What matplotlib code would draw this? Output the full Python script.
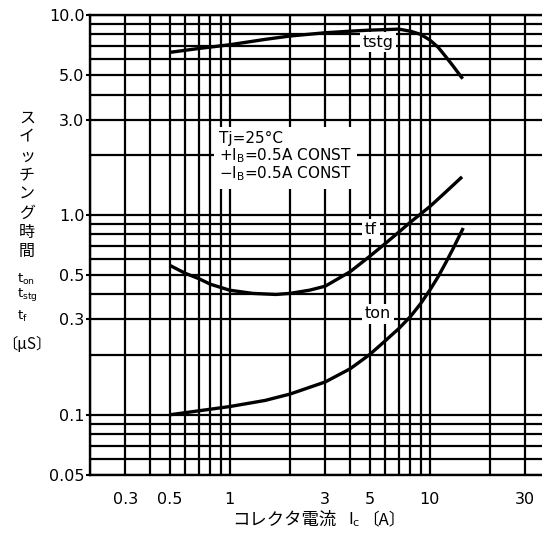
import matplotlib
matplotlib.use("Agg")
import matplotlib.pyplot as plt
from matplotlib.ticker import FixedLocator, NullFormatter, FixedFormatter

# ---- data ----
tstg_x = [0.5, 0.7, 1, 1.5, 2, 3, 4, 5, 6, 7, 8, 9, 10, 11, 12, 13, 14.6]
tstg_y = [6.5, 6.8, 7.1, 7.55, 7.85, 8.15, 8.3, 8.4, 8.45, 8.5, 8.3, 8.0, 7.5, 6.9, 6.2, 5.6, 4.8]

tf_x = [0.5, 0.6, 0.7, 0.8, 1, 1.3, 1.7, 2, 2.5, 3, 4, 5, 6, 7, 8, 10, 12, 14.5]
tf_y = [0.56, 0.51, 0.48, 0.45, 0.42, 0.405, 0.40, 0.405, 0.42, 0.44, 0.52, 0.62, 0.72, 0.82, 0.92, 1.1, 1.3, 1.55]

ton_x = [0.5, 1, 1.5, 2, 3, 4, 5, 6, 7, 8, 9, 10, 11, 12, 13, 14.7]
ton_y = [0.1, 0.11, 0.118, 0.127, 0.146, 0.17, 0.2, 0.235, 0.27, 0.31, 0.36, 0.42, 0.49, 0.575, 0.67, 0.86]

x_grid = [0.2, 0.3, 0.4, 0.5, 0.6, 0.7, 0.8, 0.9, 1, 2, 3, 4, 5, 6, 7, 8, 9, 10, 20, 30]
y_grid = [0.05, 0.06, 0.07, 0.08, 0.09, 0.1, 0.2, 0.3, 0.4, 0.5, 0.6, 0.7, 0.8, 0.9,
          1, 2, 3, 4, 5, 6, 7, 8, 9, 10]
x_ticks = [0.3, 0.5, 1, 3, 5, 10, 30]
x_ticklabels = ["0.3", "0.5", "1", "3", "5", "10", "30"]
y_ticks = [0.05, 0.1, 0.3, 0.5, 1, 3, 5, 10]
y_ticklabels = ["0.05", "0.1", "0.3", "0.5", "1.0", "3.0", "5.0", "10.0"]

W, H = 542, 534
fig = plt.figure(figsize=(W / 100, H / 100), dpi=100)
ax = fig.add_axes([90 / W, 1 - 475 / H, 452 / W, 460 / H])
ax.set_xscale("log")
ax.set_yscale("log")
ax.set_xlim(0.2, 36.4)
ax.set_ylim(0.05, 10)

for s in ["left", "top", "bottom"]:
    ax.spines[s].set_linewidth(1.7)
    ax.spines[s].set_color("black")
ax.spines["right"].set_visible(False)

ax.xaxis.set_major_locator(FixedLocator(x_ticks))
ax.xaxis.set_major_formatter(FixedFormatter(x_ticklabels))
ax.xaxis.set_minor_locator(FixedLocator(x_grid))
ax.xaxis.set_minor_formatter(NullFormatter())
ax.yaxis.set_major_locator(FixedLocator(y_ticks))
ax.yaxis.set_major_formatter(FixedFormatter(y_ticklabels))
ax.yaxis.set_minor_locator(FixedLocator(y_grid))
ax.yaxis.set_minor_formatter(NullFormatter())

ax.grid(which="both", color="black", linewidth=1.6)
ax.set_axisbelow(True)
ax.tick_params(axis="x", which="both", length=0, pad=12, labelsize=11.5)
ax.tick_params(axis="y", which="major", length=3, width=1.5, pad=1, labelsize=11.5)
ax.tick_params(axis="y", which="minor", length=0)

ax.plot(tstg_x, tstg_y, color="black", lw=2.4, zorder=4, solid_capstyle="butt")
ax.plot(tf_x, tf_y, color="black", lw=2.4, zorder=4, solid_capstyle="butt")
ax.plot(ton_x, ton_y, color="black", lw=2.4, zorder=4, solid_capstyle="butt")

box = dict(facecolor="white", edgecolor="none", pad=2)
def fx(px):
    return (px - 90) / 452
def fy(py):
    return (475 - py) / 460

ax.text(fx(378), fy(42), "tstg", ha="center", va="center", fontsize=11.5,
        transform=ax.transAxes, bbox=box, zorder=3)
ax.text(fx(371), fy(229), "tf", ha="center", va="center", fontsize=11.5,
        transform=ax.transAxes, bbox=box, zorder=3)
ax.text(fx(378), fy(314), "ton", ha="center", va="center", fontsize=11.5,
        transform=ax.transAxes, bbox=box, zorder=3)

ann = ("Tj=25°C\n"
       r"+$\mathregular{I_B}$=0.5A CONST" "\n"
       r"−$\mathregular{I_B}$=0.5A CONST")
ax.text(fx(219), fy(131), ann, ha="left", va="top", fontsize=11, linespacing=1.0,
        transform=ax.transAxes, zorder=3,
        bbox=dict(facecolor="white", edgecolor="none", pad=4))

# y-axis label (vertical Japanese)
cjk = ["Noto Sans CJK JP", "DejaVu Sans"]
ylab = "スイッチング時間"
for i, ch in enumerate(ylab):
    fig.text(27 / W, 1 - (118 + i * 19) / H, ch, ha="center", va="center",
             fontsize=11.5, family=cjk)
fig.text(17 / W, 1 - 283 / H, r"$\mathregular{t_{on}}$", ha="left", va="baseline", fontsize=9.5)
fig.text(17 / W, 1 - 297 / H, r"$\mathregular{t_{stg}}$", ha="left", va="baseline", fontsize=9.5)
fig.text(17 / W, 1 - 320 / H, r"$\mathregular{t_{f}}$", ha="left", va="baseline", fontsize=9.5)
fig.text(27 / W, 1 - 344 / H, "〔μS〕", ha="center", va="center", fontsize=11, family=cjk)

# x-axis label
fig.text(232 / W, 1 - 520 / H, "コレクタ電流", ha="left", va="center", fontsize=12.5, family=cjk)
fig.text(348 / W, 1 - 520 / H, r"$\mathregular{I_c}$", ha="left", va="center", fontsize=11.5)
fig.text(362 / W, 1 - 520 / H, "〔A〕", ha="left", va="center", fontsize=12, family=cjk)

fig.savefig("out.png", dpi=100, facecolor="white")
